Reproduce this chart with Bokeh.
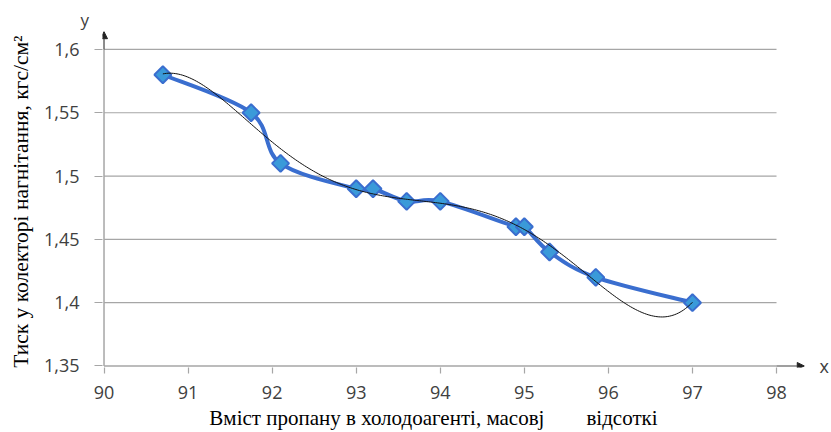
import numpy as np
from bokeh.plotting import figure
from bokeh.models import FixedTicker, Range1d, Arrow, NormalHead, LinearAxis, Title
from bokeh.embed import file_html
from bokeh.resources import INLINE

# ---- data ----
propane = [90.7, 91.75, 92.1, 93.0, 93.2, 93.6, 94.0, 94.9, 95.0, 95.3, 95.85, 97.0]
pressure = [1.58, 1.55, 1.51, 1.49, 1.49, 1.48, 1.48, 1.46, 1.46, 1.44, 1.42, 1.40]
x_ticks = [90, 91, 92, 93, 94, 95, 96, 97, 98]
x_tick_labels = ["90", "91", "92", "93", "94", "95", "96", "97", "98"]
y_ticks = [1.35, 1.4, 1.45, 1.5, 1.55, 1.6]
y_tick_labels = ["1,35", "1,4", "1,45", "1,5", "1,55", "1,6"]
TREND_ORDER = 5
NB = "\u00a0"
x_title = "Вміст пропану в холодоагенті, масовј" + NB * 8 + "відсоткі" + NB * 8
y_title = "Тиск у колекторі нагнітання, кгс/см²" + NB
x_letter = "x"
y_letter = "y"

LINE_BLUE = "#3a6ecf"
MARK_FILL = "#3a9ad9"
AXIS_GRAY = "#a6a6a6"
TEXT_GRAY = "#404040"

p = figure(width=831, height=432, x_range=Range1d(89.982, 98.3566), y_range=Range1d(1.3488, 1.61494),
           output_backend="svg", toolbar_location=None,
           min_border_left=102, min_border_right=18, min_border_top=30, min_border_bottom=64)
p.outline_line_color = None

# grid (drawn between x=90 and x=98 only)
p.xgrid.visible = False
p.ygrid.visible = False
p.segment(x0=[x_ticks[0]] * 5, y0=y_ticks[1:], x1=[x_ticks[-1]] * 5, y1=y_ticks[1:],
          line_color=AXIS_GRAY, line_width=1.2)

# axes (ticks + labels from Bokeh, axis lines drawn as segments)
for ax in (p.xaxis[0], p.yaxis[0]):
    ax.axis_line_color = None
    ax.major_tick_line_color = AXIS_GRAY
    ax.major_tick_line_width = 1.2
    ax.major_tick_in = 0
    ax.minor_tick_line_color = None
    ax.major_label_text_font = "Open Sans"
    ax.major_label_text_font_size = "18px"
    ax.major_label_text_color = TEXT_GRAY
    ax.axis_label_text_font = "Liberation Serif"
    ax.axis_label_text_font_style = "normal"
    ax.axis_label_text_color = "#000000"

p.xaxis.ticker = FixedTicker(ticks=x_ticks)
p.xaxis.major_label_overrides = {t: l for t, l in zip(x_ticks, x_tick_labels)}
p.xaxis.major_tick_out = 6
p.xaxis.major_label_standoff = 12
p.xaxis.axis_label = x_title
p.xaxis.axis_label_text_font_size = "21px"
p.xaxis.axis_label_standoff = 4

p.yaxis.ticker = FixedTicker(ticks=y_ticks)
p.yaxis.major_label_overrides = {t: l for t, l in zip(y_ticks, y_tick_labels)}
p.yaxis.major_tick_out = 8
p.yaxis.major_label_standoff = 15
p.yaxis.axis_label = y_title
p.yaxis.axis_label_text_font_size = "21.5px"
p.yaxis.axis_label_standoff = 8

# "x" letter at the end of the x axis (as a tick label of a bare right axis)
xr = LinearAxis(ticker=FixedTicker(ticks=[y_ticks[0]]), major_label_overrides={y_ticks[0]: x_letter},
                axis_line_color=None, major_tick_line_color=None, minor_tick_line_color=None,
                major_label_standoff=7, major_label_orientation="horizontal",
                major_label_text_font="Open Sans", major_label_text_font_size="18px",
                major_label_text_color=TEXT_GRAY)
p.add_layout(xr, "right")

# "y" letter above the y axis
p.add_layout(Title(text=y_letter, align="left", offset=-22, standoff=0,
                   text_font="Open Sans", text_font_size="17px", text_font_style="normal",
                   text_color=TEXT_GRAY), "above")

# axis lines
p.segment(x0=[x_ticks[0], x_ticks[0]], y0=[y_ticks[0], y_ticks[0]],
          x1=[x_ticks[-1], x_ticks[0]], y1=[y_ticks[0], y_ticks[-1]],
          line_color=AXIS_GRAY, line_width=1.5)

# smoothed data line (Catmull-Rom style cubic Bezier through the points)
xs = np.array(propane, dtype=float)
ys = np.array(pressure, dtype=float)
n = len(xs)
x0, y0, x1, y1, cx0, cy0, cx1, cy1 = ([] for _ in range(8))
for i in range(n - 1):
    a = i - 1 if i > 0 else i
    d = i + 2 if i + 2 < n else i + 1
    x0.append(xs[i]); y0.append(ys[i])
    x1.append(xs[i + 1]); y1.append(ys[i + 1])
    cx0.append(xs[i] + (xs[i + 1] - xs[a]) / 6); cy0.append(ys[i] + (ys[i + 1] - ys[a]) / 6)
    cx1.append(xs[i + 1] - (xs[d] - xs[i]) / 6); cy1.append(ys[i + 1] - (ys[d] - ys[i]) / 6)
p.bezier(x0=x0, y0=y0, x1=x1, y1=y1, cx0=cx0, cy0=cy0, cx1=cx1, cy1=cy1,
         line_color=LINE_BLUE, line_width=4, line_cap="round")

# markers
p.scatter(propane, pressure, marker="square", angle=np.pi / 4, size=12,
          fill_color=MARK_FILL, line_color=LINE_BLUE, line_width=2)

# polynomial trend line fitted to the data
xm = xs.mean()
coef = np.polyfit(xs - xm, ys, TREND_ORDER)
xf = np.linspace(xs.min(), xs.max(), 300)
p.line(xf, np.polyval(coef, xf - xm), line_color="#111111", line_width=1)

# axis arrows
p.add_layout(Arrow(end=NormalHead(size=7, fill_color="#222222", line_color="#222222"),
                   x_start=x_ticks[-1], y_start=y_ticks[0], x_end=98.33, y_end=y_ticks[0],
                   line_color="#404040", line_width=1.2))
p.add_layout(Arrow(end=NormalHead(size=7, fill_color="#222222", line_color="#222222"),
                   x_start=x_ticks[0], y_start=y_ticks[-1], x_end=x_ticks[0], y_end=1.614,
                   line_color="#404040", line_width=1.2))

open("out.html", "w").write(file_html(p, INLINE))
